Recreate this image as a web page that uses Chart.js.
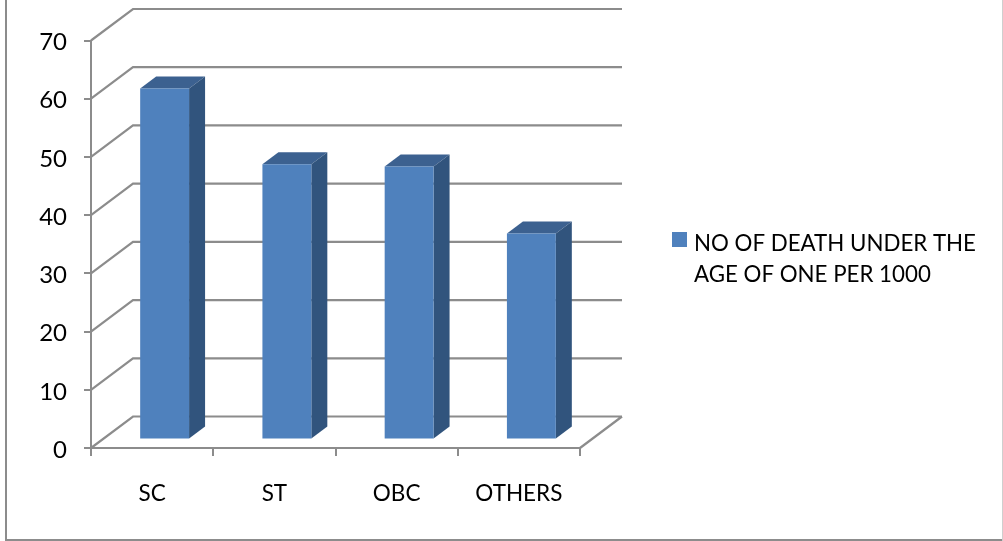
<!DOCTYPE html>
<html>
<head>
<meta charset="utf-8">
<title>Deaths under one</title>
<script src="https://cdn.jsdelivr.net/npm/chart.js@4/dist/chart.umd.min.js"></script>
<style>
html, body { margin: 0; padding: 0; background: #fff; overflow: hidden; }
#wrap { position: relative; width: 1003px; height: 541px; }
</style>
</head>
<body>
<div id="wrap"><canvas id="chart1" width="1003" height="541"></canvas></div>
<script>
var categories = ['SC', 'ST', 'OBC', 'OTHERS'];
var deaths = [60.3, 47.3, 46.9, 35.4];
var yTicks = [0, 10, 20, 30, 40, 50, 60, 70];
var legendLines = ['NO OF DEATH UNDER THE', 'AGE OF ONE PER 1000'];

var fontName = 'Lato';
var gridColor = '#8c8c8c';
var wallDx = 42, wallDy = -31.5; // back wall offset
var barDx = 12.5, barDy = -8.5;  // bars stand a bit behind the front plane
var sideDx = 16, sideDy = -12;   // depth of a bar

function poly(ctx, pts, color) {
	ctx.fillStyle = color;
	ctx.beginPath();
	ctx.moveTo(pts[0][0], pts[0][1]);
	for (var i = 1; i < pts.length; i++) {
		ctx.lineTo(pts[i][0], pts[i][1]);
	}
	ctx.closePath();
	ctx.fill();
}

var walls = {
	id: 'walls',
	beforeDatasetsDraw: function(chart) {
		var ctx = chart.ctx, y = chart.scales.y, area = chart.chartArea;
		ctx.save();
		ctx.strokeStyle = gridColor;
		ctx.lineWidth = 2.2;
		ctx.beginPath();
		yTicks.forEach(function(v) {
			var py = y.getPixelForValue(v);
			ctx.moveTo(area.left, py);
			ctx.lineTo(area.left + wallDx, py + wallDy);
			ctx.lineTo(area.right + wallDx, py + wallDy);
		});
		// floor right edge
		ctx.moveTo(area.right, area.bottom);
		ctx.lineTo(area.right + wallDx, area.bottom + wallDy);
		ctx.stroke();
		ctx.restore();
	}
};

var bars3d = {
	id: 'bars3d',
	beforeDatasetDraw: function(chart) {
		var ctx = chart.ctx;
		ctx.save();
		ctx.translate(barDx, barDy);
		chart.getDatasetMeta(0).data.forEach(function(bar) {
			var l = bar.x - bar.width / 2, r = bar.x + bar.width / 2;
			poly(ctx, [[l, bar.y], [l + sideDx, bar.y + sideDy], [r + sideDx, bar.y + sideDy], [r, bar.y]], '#3c6190');
			poly(ctx, [[r, bar.y], [r + sideDx, bar.y + sideDy], [r + sideDx, bar.base + sideDy], [r, bar.base]], '#31547d');
		});
	},
	afterDatasetDraw: function(chart) {
		chart.ctx.restore();
	}
};

var sideLegend = {
	id: 'sideLegend',
	afterDraw: function(chart) {
		var ctx = chart.ctx;
		ctx.save();
		ctx.fillStyle = '#4f81bd';
		ctx.fillRect(672, 232, 15, 15);
		ctx.fillStyle = '#000';
		ctx.font = '22.3px ' + fontName;
		ctx.textBaseline = 'middle';
		legendLines.forEach(function(line, i) {
			ctx.fillText(line, 694, 243.5 + i * 31);
		});
		ctx.restore();
	}
};

var frame = {
	id: 'frame',
	beforeDraw: function(chart) {
		var ctx = chart.ctx;
		ctx.save();
		ctx.fillStyle = '#8c8c8c';
		ctx.fillRect(5, 0, 2, 541);
		ctx.fillRect(5, 539, 998, 2);
		ctx.fillStyle = '#cfcfcf';
		ctx.fillRect(1002, 0, 1, 541);
		ctx.restore();
	}
};

new Chart(document.getElementById('chart1').getContext('2d'), {
	type: 'bar',
	data: {
		labels: categories,
		datasets: [{
			label: legendLines.join(' '),
			data: deaths,
			backgroundColor: '#4f81bd',
			barPercentage: 0.4,
			categoryPercentage: 1
		}]
	},
	options: {
		responsive: false,
		animation: false,
		devicePixelRatio: 1,
		layout: { padding: { top: 40.5, right: 423, bottom: 0, left: 0 } },
		plugins: {
			legend: { display: false },
			tooltip: { enabled: false }
		},
		scales: {
			x: {
				afterFit: function(scale) { scale.height = 93; },
				grid: { drawOnChartArea: false, color: gridColor, lineWidth: 2, tickLength: 8 },
				border: { color: gridColor, width: 2 },
				ticks: { color: '#000', font: { family: fontName, size: 22.5 }, padding: 24, maxRotation: 0 }
			},
			y: {
				min: 0,
				max: 70,
				afterFit: function(scale) { scale.width = 91; },
				afterBuildTicks: function(scale) {
					scale.ticks = yTicks.map(function(v) { return { value: v }; });
				},
				afterUpdate: function(scale) {
					// labels sit a little under their ticks in the original
					if (scale.labelsShifted) return;
					scale.labelsShifted = true;
					var drawLabels = scale.drawLabels;
					scale.drawLabels = function(area) {
						this.ctx.save();
						this.ctx.translate(0, 2);
						drawLabels.call(this, area);
						this.ctx.restore();
					};
				},
				grid: { drawOnChartArea: false, color: gridColor, lineWidth: 2, tickLength: 7 },
				border: { color: gridColor, width: 2 },
				ticks: { color: '#000', font: { family: fontName, size: 24 }, padding: 17 }
			}
		}
	},
	plugins: [frame, walls, bars3d, sideLegend]
});
</script>
</body>
</html>
